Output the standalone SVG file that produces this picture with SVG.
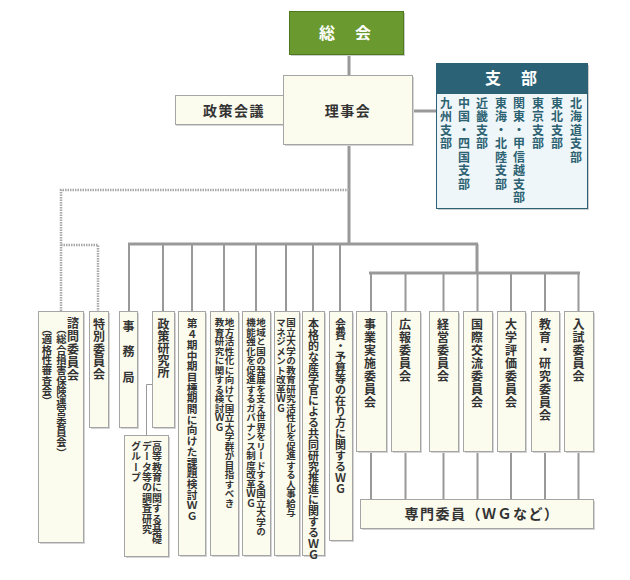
<svg xmlns="http://www.w3.org/2000/svg" width="630" height="580" viewBox="0 0 630 580">
<style>
.box{fill:#fbfbee;stroke:#a5a5a5;stroke-width:1}
.sh{fill:#d4d4d4}
.t{font-family:"Noto Sans CJK JP","Noto Sans CJK SC",sans-serif;font-weight:bold;fill:#333}
.v{writing-mode:vertical-rl;text-spacing-trim:space-all}
.ln{stroke:#999;stroke-width:2;fill:none}
.mn{stroke:#999;stroke-width:3;fill:none}
.dot{stroke:#a8a8a8;stroke-width:2.5;fill:none;stroke-dasharray:1.5 1}
.thin{stroke:#999;stroke-width:1;fill:none}
.br{font-family:"Noto Sans CJK JP","Noto Sans CJK SC",sans-serif;font-weight:bold;fill:#2d6272;font-size:12px;letter-spacing:1.5px;writing-mode:vertical-rl}
</style>
<rect width="630" height="580" fill="#fff"/>
<g id="connectors">
  <line class="mn" x1="349" y1="54" x2="349" y2="76"/>
  <line class="mn" x1="412" y1="111" x2="436" y2="111"/>
  <line class="mn" x1="349" y1="144" x2="349" y2="244"/>
  <polyline class="dot" points="349,190 61,190 61,311"/>
  <polyline class="dot" points="61,245 98,245 98,311"/>
  <line class="mn" x1="128" y1="244" x2="478" y2="244"/>
  <line class="mn" x1="477" y1="244" x2="477" y2="273"/>
  <line class="mn" x1="369" y1="273" x2="580" y2="273"/>
  <path class="ln" d="M129,244V311M163,244V311M192,244V311M224,244V311M256,244V311M286,244V311M313,244V311M340,244V311"/>
  <path class="ln" d="M371,273V311M405.5,273V311M443.5,273V311M477.5,273V311M511,273V311M545,273V311M578.5,273V311"/>
  <path class="ln" d="M371,451V499M405.5,451V499M443.5,451V499M477.5,451V499M511,451V499M545,451V499M578.5,451V499"/>
  <polyline class="thin" points="152,384.5 146.5,384.5 146.5,435"/>
</g>
<g id="sokai">
  <rect x="291" y="13" width="114" height="43" fill="#ccc"/>
  <rect x="289.5" y="11.5" width="114" height="43" fill="#6a9a2f" stroke="#4e7a1e"/>
  <text class="t" x="346" y="39" font-size="16" letter-spacing="2" text-anchor="middle" style="fill:#fff">総　会</text>
</g>
<g id="seisakukaigi">
  <rect x="176" y="97" width="120" height="29" class="sh"/>
  <rect x="175.5" y="95.5" width="120" height="29" class="box"/>
  <text class="t" x="234" y="116" font-size="14" letter-spacing="1.5" text-anchor="middle">政策会議</text>
</g>
<g id="rijikai">
  <rect x="285" y="77" width="129" height="69" class="sh"/>
  <rect x="283.5" y="75.5" width="129" height="69" class="box"/>
  <text class="t" x="348" y="116" font-size="14" letter-spacing="1.5" text-anchor="middle">理事会</text>
</g>
<g id="shibu">
  <rect x="438" y="65" width="151" height="145" fill="#ccc"/>
  <rect x="436.5" y="63.5" width="151" height="145" fill="#eef6f9" stroke="#2b6275"/>
  <rect x="436.5" y="63.5" width="151" height="30" fill="#2b6275" stroke="#2b6275"/>
  <text class="t" x="512" y="84" font-size="16" letter-spacing="2" text-anchor="middle" style="fill:#fff">支　部</text>
  <text class="br" x="576" y="97">北海道支部</text>
  <text class="br" x="557" y="97">東北支部</text>
  <text class="br" x="538" y="97">東京支部</text>
  <text class="br" x="519" y="97">関東・甲信越支部</text>
  <text class="br" x="501" y="97">東海・北陸支部</text>
  <text class="br" x="482" y="97">近畿支部</text>
  <text class="br" x="464" y="97">中国・四国支部</text>
  <text class="br" x="446" y="97">九州支部</text>
</g>
<g id="shimon">
  <rect x="40" y="313" width="45" height="231" class="sh"/>
  <rect x="38.5" y="311.5" width="45" height="231" class="box"/>
  <text class="t v" x="73" y="317" font-size="12" letter-spacing="1">諮問委員会</text>
  <text class="t v" x="61.5" y="324" font-size="10.3">（総合損害保険運営委員会</text>
  <text class="t v" x="61.5" y="447.6" font-size="10.3">）</text>
  <text class="t v" x="47" y="324" font-size="10.3">（適格性審査会</text>
  <text class="t v" x="47" y="396.1" font-size="10.3">）</text>
</g>
<g id="tokubetsu">
  <rect x="91" y="313" width="19" height="116" class="sh"/>
  <rect x="89.5" y="311.5" width="19" height="116" class="box"/>
  <text class="t v" x="99" y="318" font-size="12" letter-spacing="0.5">特別委員会</text>
</g>
<g id="jimukyoku">
  <rect x="121" y="313" width="18" height="116" class="sh"/>
  <rect x="119.5" y="311.5" width="18" height="116" class="box"/>
  <text class="t v" x="128.5" y="320" font-size="12" letter-spacing="0.8">事　務　局</text>
</g>
<g id="seisakukenkyujo">
  <rect x="154" y="313" width="22" height="116" class="sh"/>
  <rect x="152.5" y="311.5" width="22" height="116" class="box"/>
  <text class="t v" x="163.5" y="318" font-size="12" letter-spacing="0">政策研究所</text>
</g>
<g id="koutoukyouiku">
  <rect x="126" y="437" width="44" height="121" class="sh"/>
  <rect x="124.5" y="435.5" width="44" height="121" class="box"/>
  <text class="t v" x="157" y="441" font-size="10" letter-spacing="0.4">高等教育に関する基礎</text>
  <text class="t v" x="147" y="441" font-size="10" letter-spacing="0.4">データ等の調査研究</text>
  <text class="t v" x="136" y="441" font-size="10" letter-spacing="0.4">グループ</text>
</g>
<g id="dai4ki">
  <rect x="180" y="313" width="27" height="244" class="sh"/>
  <rect x="178.5" y="311.5" width="27" height="244" class="box"/>
  <text class="t v" x="192" y="318" font-size="10.7">第４期中期目標期間に向けた課題検討ＷＧ</text>
</g>
<g id="chihou">
  <rect x="212" y="313" width="28" height="244" class="sh"/>
  <rect x="210.5" y="311.5" width="28" height="244" class="box"/>
  <text class="t v" x="229.5" y="318" font-size="9.5">地方活性化に向けて国立大学群が目指すべき</text>
  <text class="t v" x="219.5" y="318" font-size="9.5">教育研究に関する検討ＷＧ</text>
</g>
<g id="chiiki">
  <rect x="244" y="313" width="28" height="244" class="sh"/>
  <rect x="242.5" y="311.5" width="28" height="244" class="box"/>
  <text class="t v" x="261" y="318" font-size="9.5">地域と国の発展を支え世界をリードする国立大学の</text>
  <text class="t v" x="251" y="318" font-size="9.5">機能強化を促進するガバナンス制度改革ＷＧ</text>
</g>
<g id="kokuritsu">
  <rect x="276" y="313" width="25" height="244" class="sh"/>
  <rect x="274.5" y="311.5" width="25" height="244" class="box"/>
  <text class="t v" x="291" y="318" font-size="9.5">国立大学の教育研究活性化を促進する人事給与</text>
  <text class="t v" x="281" y="318" font-size="9.5">マネジメント改革ＷＧ</text>
</g>
<g id="honkaku">
  <rect x="304" y="313" width="22" height="244" class="sh"/>
  <rect x="302.5" y="311.5" width="22" height="244" class="box"/>
  <text class="t v" x="313.5" y="318" font-size="11">本格的な産学官による共同研究推進に関するＷＧ</text>
</g>
<g id="kaihi">
  <rect x="331" y="313" width="23" height="229" class="sh"/>
  <rect x="329.5" y="311.5" width="23" height="229" class="box"/>
  <text class="t v" x="340.5" y="318" font-size="11">会費・予算等の在り方に関するＷＧ</text>
</g>
<g id="jigyou">
  <rect x="358" y="313" width="30" height="140" class="sh"/>
  <rect x="356.5" y="311.5" width="30" height="140" class="box"/>
  <text class="t v" x="370" y="318" font-size="12" letter-spacing="1">事業実施委員会</text>
</g>
<g id="kouhou">
  <rect x="393" y="313" width="29" height="140" class="sh"/>
  <rect x="391.5" y="311.5" width="29" height="140" class="box"/>
  <text class="t v" x="405" y="318" font-size="12" letter-spacing="1">広報委員会</text>
</g>
<g id="keiei">
  <rect x="431" y="313" width="29" height="140" class="sh"/>
  <rect x="429.5" y="311.5" width="29" height="140" class="box"/>
  <text class="t v" x="443" y="318" font-size="12" letter-spacing="1">経営委員会</text>
</g>
<g id="kokusai">
  <rect x="465" y="313" width="29" height="140" class="sh"/>
  <rect x="463.5" y="311.5" width="29" height="140" class="box"/>
  <text class="t v" x="477" y="318" font-size="12" letter-spacing="1">国際交流委員会</text>
</g>
<g id="hyouka">
  <rect x="499" y="313" width="28" height="140" class="sh"/>
  <rect x="497.5" y="311.5" width="28" height="140" class="box"/>
  <text class="t v" x="511" y="318" font-size="12" letter-spacing="1">大学評価委員会</text>
</g>
<g id="kyouiku">
  <rect x="533" y="313" width="28" height="140" class="sh"/>
  <rect x="531.5" y="311.5" width="28" height="140" class="box"/>
  <text class="t v" x="545" y="318" font-size="12" letter-spacing="1">教育・研究委員会</text>
</g>
<g id="nyushi">
  <rect x="566" y="313" width="29" height="140" class="sh"/>
  <rect x="564.5" y="311.5" width="29" height="140" class="box"/>
  <text class="t v" x="578.5" y="318" font-size="12" letter-spacing="1">入試委員会</text>
</g>
<g id="senmon">
  <rect x="362" y="501" width="233" height="29" class="sh"/>
  <rect x="360.5" y="499.5" width="233" height="29" class="box"/>
  <text class="t" x="482" y="519" font-size="14" letter-spacing="1.5" text-anchor="middle">専門委員（ＷＧなど）</text>
</g>
</svg>
